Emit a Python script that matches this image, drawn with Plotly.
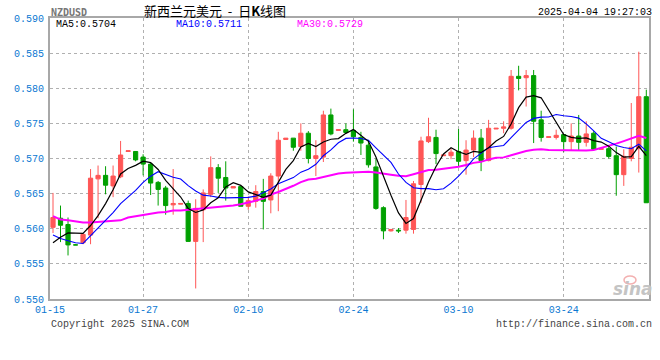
import pandas as pd
import plotly.graph_objects as go

# ---------------- data ----------------
dates = pd.date_range("2025-01-15", "2025-04-04", freq="D").strftime("%Y-%m-%d").tolist()

opens = [0.5602, 0.5615, 0.5606, 0.5577, 0.5580, 0.5591, 0.5671, 0.5676, 0.5661, 0.5674,
         0.5710, 0.5710, 0.5702, 0.5692, 0.5666, 0.5658, 0.5634, 0.5635, 0.5636, 0.5582,
         0.5627, 0.5649, 0.5687, 0.5673, 0.5658, 0.5660, 0.5632, 0.5639, 0.5653, 0.5641,
         0.5675, 0.5727, 0.5729, 0.5717, 0.5736, 0.5700, 0.5702, 0.5762, 0.5740, 0.5741,
         0.5740, 0.5730, 0.5719, 0.5688, 0.5630, 0.5597, 0.5598, 0.5598, 0.5599, 0.5663,
         0.5724, 0.5730, 0.5704, 0.5704, 0.5710, 0.5697, 0.5712, 0.5729, 0.5697, 0.5742,
         0.5743, 0.5743, 0.5817, 0.5815, 0.5818, 0.5755, 0.5730, 0.5730, 0.5734, 0.5724,
         0.5732, 0.5723, 0.5736, 0.5713, 0.5714, 0.5704, 0.5677, 0.5700, 0.5714, 0.5788]
highs = [0.5651, 0.5633, 0.5616, 0.5578, 0.5593, 0.5685, 0.5690, 0.5689, 0.5690, 0.5725,
         0.5711, 0.5710, 0.5706, 0.5694, 0.5668, 0.5661, 0.5685, 0.5636, 0.5640, 0.5642,
         0.5656, 0.5703, 0.5692, 0.5696, 0.5660, 0.5660, 0.5646, 0.5662, 0.5671, 0.5679,
         0.5738, 0.5729, 0.5729, 0.5750, 0.5739, 0.5726, 0.5768, 0.5771, 0.5741, 0.5750,
         0.5770, 0.5738, 0.5726, 0.5700, 0.5632, 0.5599, 0.5601, 0.5641, 0.5668, 0.5731,
         0.5758, 0.5741, 0.5705, 0.5715, 0.5742, 0.5726, 0.5740, 0.5742, 0.5755, 0.5743,
         0.5753, 0.5826, 0.5832, 0.5826, 0.5826, 0.5768, 0.5731, 0.5741, 0.5734, 0.5750,
         0.5762, 0.5753, 0.5739, 0.5714, 0.5717, 0.5717, 0.5713, 0.5779, 0.5852, 0.5798]
lows = [0.5594, 0.5581, 0.5562, 0.5577, 0.5578, 0.5578, 0.5615, 0.5649, 0.5645, 0.5672,
        0.5710, 0.5696, 0.5676, 0.5648, 0.5633, 0.5620, 0.5620, 0.5635, 0.5582, 0.5515,
        0.5581, 0.5645, 0.5651, 0.5640, 0.5658, 0.5632, 0.5627, 0.5630, 0.5599, 0.5622,
        0.5625, 0.5727, 0.5711, 0.5711, 0.5693, 0.5675, 0.5695, 0.5733, 0.5740, 0.5736,
        0.5724, 0.5705, 0.5687, 0.5627, 0.5585, 0.5596, 0.5594, 0.5593, 0.5593, 0.5637,
        0.5722, 0.5692, 0.5704, 0.5699, 0.5689, 0.5677, 0.5702, 0.5682, 0.5696, 0.5742,
        0.5736, 0.5741, 0.5797, 0.5774, 0.5722, 0.5724, 0.5730, 0.5727, 0.5709, 0.5711,
        0.5712, 0.5717, 0.5712, 0.5713, 0.5700, 0.5647, 0.5661, 0.5696, 0.5680, 0.5637]
closes = [0.5616, 0.5605, 0.5577, 0.5577, 0.5592, 0.5672, 0.5676, 0.5662, 0.5675, 0.5705,
          0.5711, 0.5698, 0.5692, 0.5665, 0.5656, 0.5633, 0.5636, 0.5636, 0.5582, 0.5629,
          0.5651, 0.5687, 0.5672, 0.5658, 0.5660, 0.5632, 0.5640, 0.5653, 0.5639, 0.5675,
          0.5726, 0.5729, 0.5716, 0.5736, 0.5700, 0.5704, 0.5762, 0.5735, 0.5741, 0.5737,
          0.5731, 0.5722, 0.5691, 0.5629, 0.5597, 0.5599, 0.5597, 0.5616, 0.5664, 0.5725,
          0.5731, 0.5707, 0.5705, 0.5709, 0.5696, 0.5712, 0.5729, 0.5697, 0.5743, 0.5743,
          0.5745, 0.5817, 0.5814, 0.5818, 0.5753, 0.5730, 0.5731, 0.5733, 0.5724, 0.5732,
          0.5723, 0.5735, 0.5713, 0.5714, 0.5703, 0.5677, 0.5703, 0.5716, 0.5788, 0.5637]

ma5_head = [0.5580, 0.5588, 0.5594, 0.5594]
ma10_head = [0.5591, 0.5586, 0.5583, 0.5580, 0.5579, 0.5590, 0.5601, 0.5612, 0.5623]
ma30_head = [0.5618, 0.5613, 0.5612, 0.5610, 0.5609, 0.5609, 0.5610, 0.5610, 0.5611, 0.5612,
             0.5616, 0.5618, 0.5620, 0.5621, 0.5623, 0.5624, 0.5626, 0.5626, 0.5627, 0.5627,
             0.5628, 0.5629, 0.5630, 0.5631, 0.5633, 0.5635, 0.5637, 0.5640, 0.5643]

tick_dates = ["2025-01-14 14:24", "2025-01-27", "2025-02-10", "2025-02-24", "2025-03-10", "2025-03-24"]
tick_text = ["01-15", "01-27", "02-10", "02-24", "03-10", "03-24"]
y_ticks = [0.550, 0.555, 0.560, 0.565, 0.570, 0.575, 0.580, 0.585, 0.590]


def moving_average(vals, n, head):
    out = pd.Series(vals).rolling(n).mean().tolist()
    out[: n - 1] = head
    return out


ma5 = moving_average(closes, 5, ma5_head)
ma10 = moving_average(closes, 10, ma10_head)
ma30 = moving_average(closes, 30, ma30_head)

RED = "#ff5656"
GREEN = "#00a000"
BLUE_TXT = "#0a78d2"
MONO = "Liberation Mono, DejaVu Sans Mono, monospace"

fig = go.Figure()
fig.add_trace(go.Candlestick(
    x=dates, open=opens, high=highs, low=lows, close=closes,
    increasing=dict(line=dict(color=RED, width=1), fillcolor=RED),
    decreasing=dict(line=dict(color=GREEN, width=1), fillcolor=GREEN),
    whiskerwidth=0, showlegend=False, hoverinfo="skip",
))
fig.add_trace(go.Scatter(x=dates, y=ma30, mode="lines", line=dict(color="#ff00ff", width=2),
                         showlegend=False, hoverinfo="skip"))
fig.add_trace(go.Scatter(x=dates, y=ma10, mode="lines", line=dict(color="#0000ff", width=1.1),
                         showlegend=False, hoverinfo="skip"))
fig.add_trace(go.Scatter(x=dates, y=ma5, mode="lines", line=dict(color="#000000", width=1.2),
                         showlegend=False, hoverinfo="skip"))

fig.update_layout(
    width=660, height=360,
    margin=dict(l=50, r=11, t=18, b=61, autoexpand=False),
    paper_bgcolor="white", plot_bgcolor="white",
    boxgap=0.2,
    showlegend=False,
    font=dict(family=MONO, size=10, color="#333"),
)
fig.update_xaxes(
    type="date",
    range=["2025-01-14 14:24", "2025-04-04 08:38"],
    rangeslider=dict(visible=False),
    tickmode="array", tickvals=tick_dates, ticktext=tick_text,
    tickfont=dict(family=MONO, size=10, color=BLUE_TXT),
    showgrid=True, gridcolor="#b0b0b0", griddash="dot", gridwidth=1,
    showline=True, linecolor="#a8a8a8", linewidth=2, mirror=True,
    ticks="", ticklabelstandoff=0,
    zeroline=False,
)
fig.update_yaxes(
    range=[0.550, 0.590],
    tickmode="array", tickvals=y_ticks, ticktext=[f"{v:.3f}" for v in y_ticks],
    tickfont=dict(family=MONO, size=10, color=BLUE_TXT),
    showgrid=True, gridcolor="#b0b0b0", griddash="dot", gridwidth=1,
    showline=True, linecolor="#a8a8a8", linewidth=2, mirror=True,
    ticks="", ticklabelstandoff=2,
    zeroline=False,
)

PX_L, PX_W, PX_B, PX_H = 50, 599, 299, 281


def px(x):
    return (x - PX_L) / PX_W


def py(y):
    return (PX_B - y) / PX_H


def note(text, x, y, xanchor="left", color="#000", size=10, family=MONO, **kw):
    fig.add_annotation(text=text, x=px(x), y=py(y), xref="paper", yref="paper",
                       xanchor=xanchor, yanchor="middle", showarrow=False,
                       font=dict(family=family, size=size, color=color), **kw)


note("<b>NZDUSD</b>", 49, 12, color="#777777", size=10, family="DejaVu Sans Mono")
note("新西兰元美元\u00a0\u00a0-\u00a0\u00a0日<b>K</b>线图", 215, 10, xanchor="center", size=13,
     family="Noto Sans CJK SC")
note("2025-04-04 19:27:03", 654, 12, xanchor="right", size=10)
note(f"MA5:{ma5[-1]:.4f}", 54, 24, color="#000000")
note(f"MA10:{ma10[-1]:.4f}", 174, 24, color="#0000ff")
note(f"MA30:{ma30[-1]:.4f}", 295, 24, color="#ff00ff")
note("Copyright 2025 SINA.COM", 49, 324, color="#444444")
note("http://finance.sina.com.cn", 654, 324, xanchor="right", color="#444444")
note("<b><i>sina</i></b>", 633, 289, xanchor="center", color="#c4c4c4", size=17,
     family="DejaVu Sans")
fig.add_shape(type="circle", xref="paper", yref="paper",
              x0=px(624), x1=px(636), y0=py(284), y1=py(276),
              line=dict(color="#f3b0b0", width=1.5))

fig.write_html("out.html")
